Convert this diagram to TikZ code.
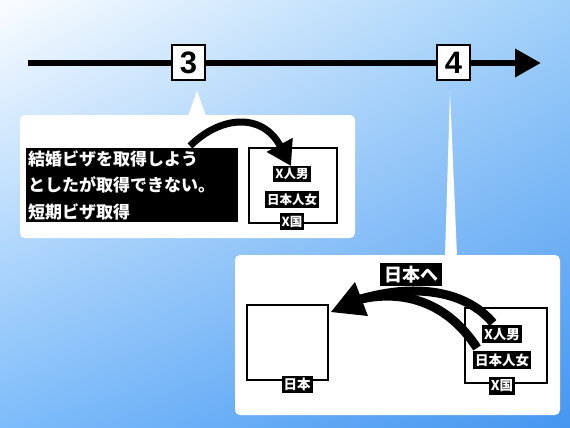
\documentclass[tikz,border=0pt]{standalone}
\usepackage{fontspec}
\setmainfont{Noto Sans CJK JP}
\newfontfamily\jp{Noto Sans CJK JP}
\newfontfamily\lat{Liberation Sans}
\usetikzlibrary{arrows.meta,shadings}
\definecolor{bgUL}{RGB}{250,253,255}
\definecolor{bgUR}{RGB}{160,208,250}
\definecolor{bgLL}{RGB}{125,188,250}
\definecolor{bgLR}{RGB}{70,150,240}
\tikzset{
  numbox/.style={draw=black, line width=1.8pt, fill=white, minimum width=33pt, minimum height=35pt, inner sep=0pt, font=\lat\bfseries\fontsize{31}{31}\selectfont},
  lab/.style={fill=black, text=white, inner xsep=2pt, inner ysep=2.5pt, font=\jp\bfseries\fontsize{12.5}{12.5}\selectfont},
  labB/.style={lab, inner ysep=2.5pt, font=\jp\bfseries\fontsize{13.5}{13.5}\selectfont},
  frame/.style={draw=black, line width=1.5pt},
  bubble/.style={fill=white, rounded corners=5pt},
}
\begin{document}
\begin{tikzpicture}[x=1pt,y=-1pt]
\useasboundingbox (0,0) rectangle (570,428);
\shade[upper left=bgUL, upper right=bgUR, lower left=bgLL, lower right=bgLR] (0,0) rectangle (570,428);
% timeline
\coordinate (tl0) at (28,63);
\coordinate (tl1) at (541,63);
\draw[line width=6.5pt, -{Triangle[length=26pt,width=27pt]}] (tl0) -- (tl1);
\node[numbox] (n3) at (188.5,62.5) {3};
\node[numbox] (n4) at (453.5,62.5) {4};
% callout 1
\fill[white] (197,91) -- (188,116) -- (206,116) -- cycle;
\fill[bubble] (20,115) rectangle (355,238);
% callout 2
\fill[white] (450,91) -- (445,256) -- (457,256) -- cycle;
\fill[bubble] (235,255) rectangle (560,415);
% callout 1 content
\node[fill=black, text=white, anchor=north west, inner xsep=2pt, inner ysep=0pt, minimum width=212pt, minimum height=74pt, text width=208pt, align=left, font=\jp\bfseries\fontsize{17}{26.5}\selectfont] (txt) at (26,148) {結婚ビザを取得しよう\\としたが取得できない。\\短期ビザ取得};
\draw[frame] (249,148) rectangle (337,223);
\node[lab] (m1) at (292,174) {X人男};
\node[lab] (w1) at (292,199.5) {日本人女};
\node[lab] (c1) at (292,221.5) {X国};
\coordinate (a1s) at (190,146);
\coordinate (a1e) at (291,166);
\draw[line width=7pt, -{Triangle[length=24pt,width=28pt]}] (a1s) .. controls (220,116) and (262,112) .. (a1e);
% callout 2 content
\draw[frame] (247,305) rectangle (328,380);
\node[labB] (jp) at (297,384.5) {日本};
\draw[frame] (465,308) rectangle (547,383);
\coordinate (sA) at (493,323);
\coordinate (sB) at (477,348);
\coordinate (hb) at (361,299);
\draw[line width=9pt] (sA) .. controls (468,293) and (420,282) .. (hb);
\draw[line width=9pt] (sB) .. controls (452,309) and (412,288) .. (hb);
\fill[black] (331,312) -- (355,282) -- (368,316) -- cycle;
\node[labB] (m2) at (502,334) {X人男};
\node[labB] (w2) at (502,360) {日本人女};
\node[labB] (c2) at (502,386) {X国};
\node[fill=black, text=white, inner xsep=4pt, inner ysep=3pt, font=\jp\bfseries\fontsize{18}{18}\selectfont] (to) at (411,274.5) {日本へ};
\end{tikzpicture}
\end{document}
